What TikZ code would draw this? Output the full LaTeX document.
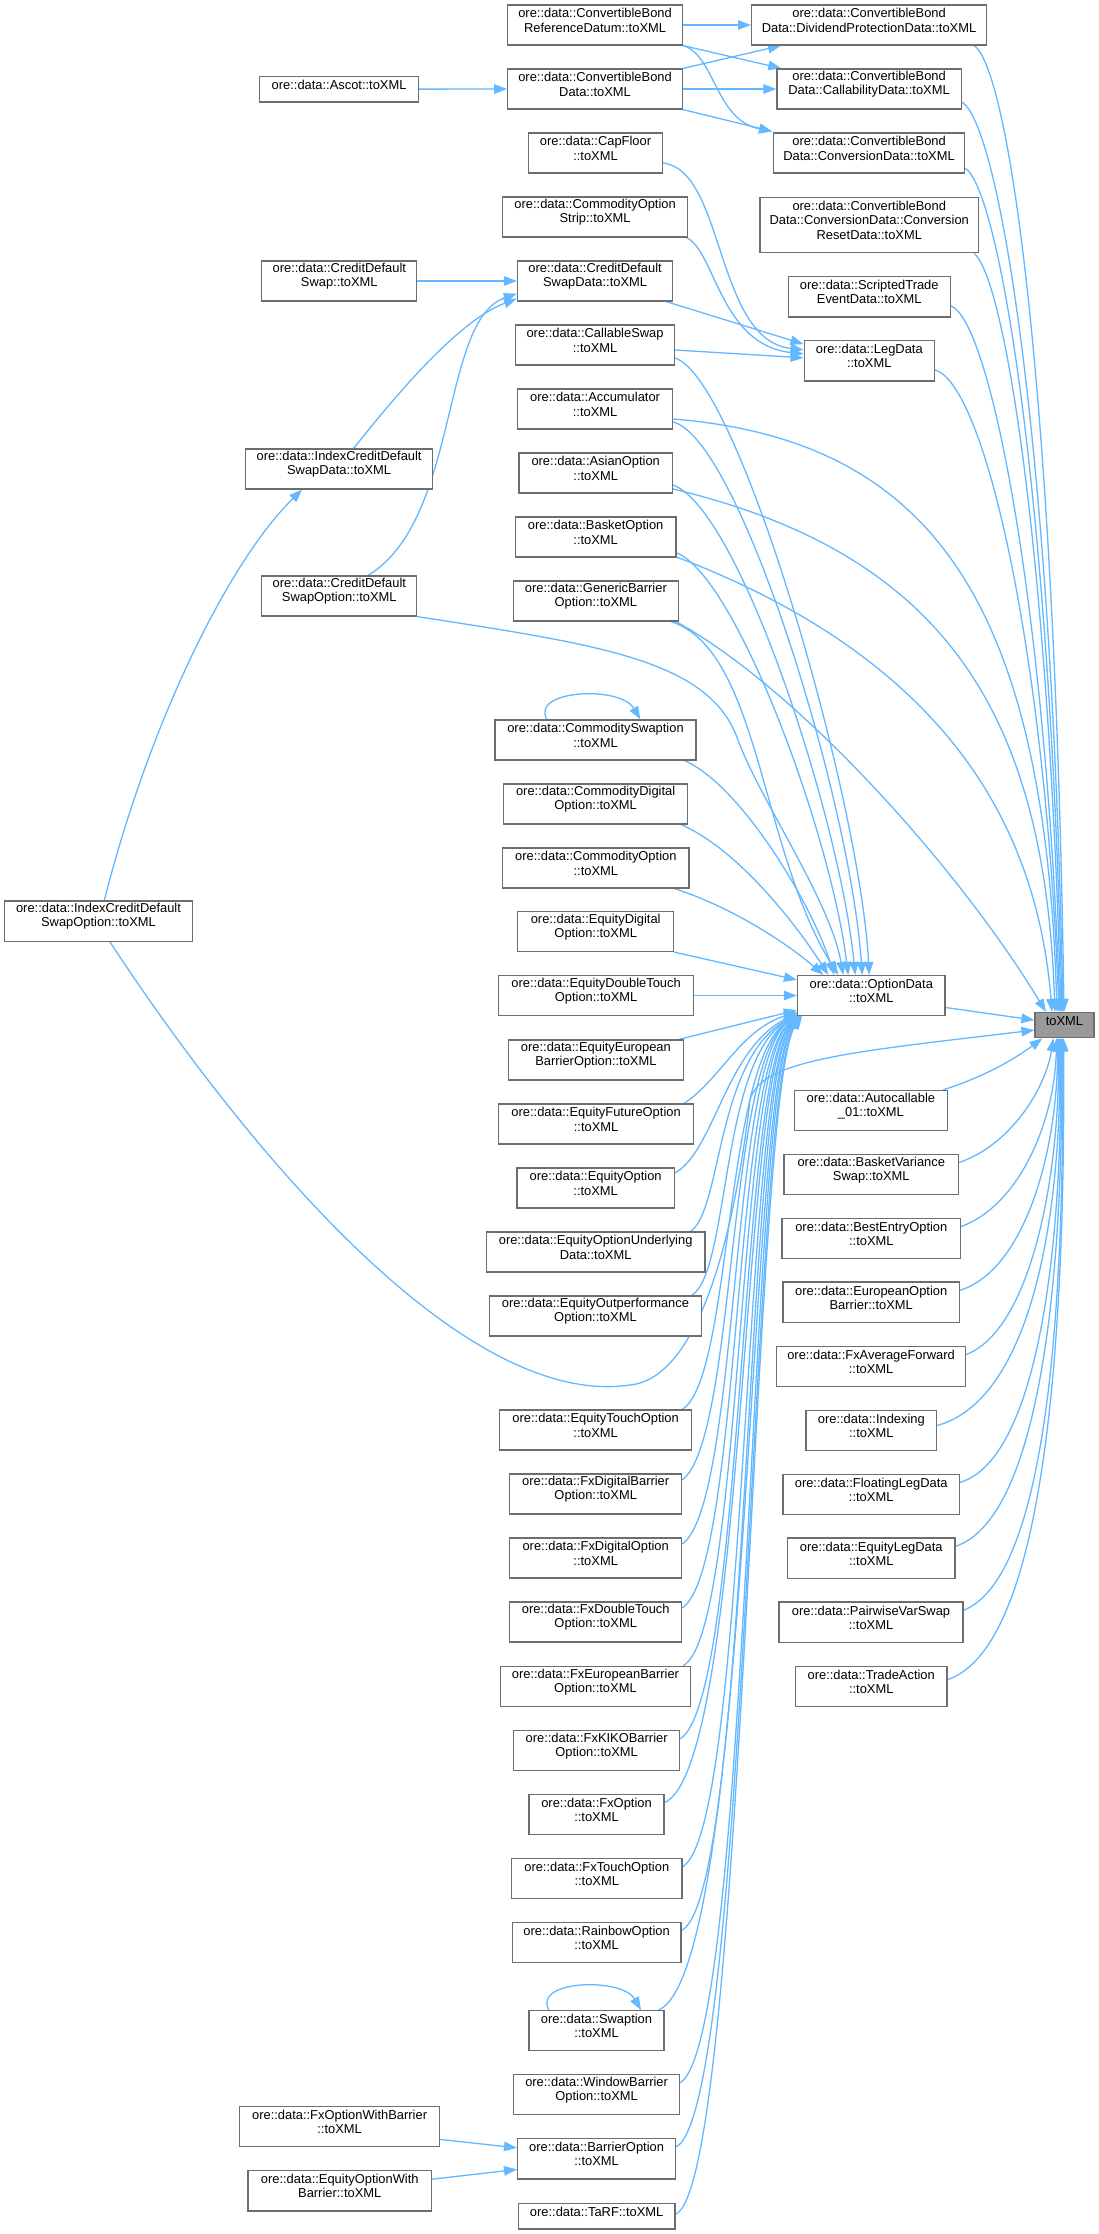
\documentclass[tikz,border=0pt]{standalone}
\usepackage{fontspec}
\usepackage{calc}
\setmainfont{Liberation Sans}
\usetikzlibrary{arrows.meta,calc,fit,backgrounds}
\definecolor{edgec}{HTML}{63B8FF}
\definecolor{bordc}{HTML}{6E6E6E}
\definecolor{tgtfill}{HTML}{999999}
\tikzset{
  box/.style={draw=bordc, fill=white, line width=1.2pt, inner sep=0pt, align=center,
     font=\fontsize{12.9}{14.2}\selectfont},
  edge/.style={draw=edgec, line width=1.3pt, -{Triangle[length=13pt,width=9.5pt]}},
}
\newcommand\mynode[7][]{\node[box,#1,fit={(#3,#5) (#4,#6)}] (#2) {#7};}
\begin{document}
\begin{tikzpicture}[x=1pt,y=-1pt]
\useasboundingbox (0,0) rectangle (1099,2234);
% column 3
\mynode{convref}{507.6}{682.5}{5}{45}{ore::data::ConvertibleBond\\ReferenceDatum::toXML}
\mynode{convdata}{507.6}{682.5}{69}{109}{ore::data::ConvertibleBond\\Data::toXML}
\mynode{capfloor}{528.6}{662.4}{133}{173}{ore::data::CapFloor\\::toXML}
\mynode{costrip}{502.5}{687.7}{197}{237}{ore::data::CommodityOption\\Strip::toXML}
\mynode{cdsdata}{517.5}{672.7}{261}{301}{ore::data::CreditDefault\\SwapData::toXML}
\mynode{callswap}{515.5}{674.6}{325}{365}{ore::data::CallableSwap\\::toXML}
\mynode{accum}{517.5}{672.7}{389}{429}{ore::data::Accumulator\\::toXML}
\mynode{asian}{518.9}{672.5}{453}{493}{ore::data::AsianOption\\::toXML}
\mynode{basket}{515.3}{676}{517}{557}{ore::data::BasketOption\\::toXML}
\mynode{generic}{513.3}{678.4}{581}{621}{ore::data::GenericBarrier\\Option::toXML}
\mynode{comswaption}{495}{696}{720}{760}{ore::data::CommoditySwaption\\::toXML}
\mynode{comdigital}{503.8}{687.5}{784}{824}{ore::data::CommodityDigital\\Option::toXML}
\mynode{comoption}{502.6}{689}{848}{888}{ore::data::CommodityOption\\::toXML}
\mynode{eqdigital}{517.7}{673.7}{911.5}{951.5}{ore::data::EquityDigital\\Option::toXML}
\mynode{eqdt}{498.7}{693.5}{975.5}{1015.5}{ore::data::EquityDoubleTouch\\Option::toXML}
\mynode{eqeb}{508.6}{683.2}{1040}{1080}{ore::data::EquityEuropean\\BarrierOption::toXML}
\mynode{eqfut}{498.7}{693.5}{1104}{1144}{ore::data::EquityFutureOption\\::toXML}
\mynode{eqopt}{516.9}{674.4}{1168}{1208}{ore::data::EquityOption\\::toXML}
\mynode{equnder}{486.3}{705}{1232}{1272}{ore::data::EquityOptionUnderlying\\Data::toXML}
\mynode{eqout}{489.5}{701.4}{1296}{1336}{ore::data::EquityOutperformance\\Option::toXML}
\mynode{eqtouch}{499.8}{691.5}{1410}{1450}{ore::data::EquityTouchOption\\::toXML}
\mynode{fxdb}{509.8}{681.6}{1474}{1514}{ore::data::FxDigitalBarrier\\Option::toXML}
\mynode{fxdo}{509.8}{681.6}{1538}{1578}{ore::data::FxDigitalOption\\::toXML}
\mynode{fxdt}{509.8}{681.6}{1602}{1642}{ore::data::FxDoubleTouch\\Option::toXML}
\mynode{fxeb}{500.6}{690.3}{1666.5}{1706.5}{ore::data::FxEuropeanBarrier\\Option::toXML}
\mynode{fxkiko}{513.6}{679.6}{1730.7}{1770.8}{ore::data::FxKIKOBarrier\\Option::toXML}
\mynode{fxopt}{529}{664}{1794.7}{1834.5}{ore::data::FxOption\\::toXML}
\mynode{fxtouch}{511.5}{682}{1858.7}{1898.6}{ore::data::FxTouchOption\\::toXML}
\mynode{rainbow}{512.2}{681}{1922.4}{1962.6}{ore::data::RainbowOption\\::toXML}
\mynode{swaption}{529}{664}{2010.6}{2050.8}{ore::data::Swaption\\::toXML}
\mynode{window}{513.6}{679.6}{2074.7}{2114.8}{ore::data::WindowBarrier\\Option::toXML}
\mynode{barrier}{517.6}{675.6}{2138.7}{2178.9}{ore::data::BarrierOption\\::toXML}
\mynode{tarf}{518.3}{675}{2203.4}{2229}{ore::data::TaRF::toXML}
% column 2 and 1
\mynode{ascot}{259.6}{418.6}{76.3}{102}{ore::data::Ascot::toXML}
\mynode{cds}{261.8}{416.8}{261}{301}{ore::data::CreditDefault\\Swap::toXML}
\mynode{icdsdata}{245.7}{432.5}{449}{489}{ore::data::IndexCreditDefault\\SwapData::toXML}
\mynode{cdsopt}{261.8}{416.8}{576}{616}{ore::data::CreditDefault\\SwapOption::toXML}
\mynode{fxowb}{239.8}{439.4}{2106.3}{2146.5}{ore::data::FxOptionWithBarrier\\::toXML}
\mynode{eqowb}{248}{431.5}{2170.7}{2210.9}{ore::data::EquityOptionWith\\Barrier::toXML}
\mynode{icdsopt}{4.7}{192.3}{901}{941.4}{ore::data::IndexCreditDefault\\SwapOption::toXML}
% column 4
\mynode[align=left]{divp}{751.6}{986.5}{5}{45}{ore::data::ConvertibleBond\\Data::DividendProtectionData::toXML}
\mynode[align=left]{callab}{776.9}{961.2}{69}{109}{ore::data::ConvertibleBond\\Data::CallabilityData::toXML}
\mynode[align=left]{conv}{773.7}{964.4}{133}{173}{ore::data::ConvertibleBond\\Data::ConversionData::toXML}
\mynode[align=left]{convreset}{759.9}{978.6}{197.3}{252.7}{ore::data::ConvertibleBond\\Data::ConversionData::Conversion\\\makebox[\widthof{Data::ConversionData::Conversion}][c]{ResetData::toXML}}
\mynode{scripted}{788.3}{950.2}{276.7}{317}{ore::data::ScriptedTrade\\EventData::toXML}
\mynode{legdata}{804.1}{934.4}{340.7}{381}{ore::data::LegData\\::toXML}
\mynode{optdata}{797.5}{945}{975.5}{1015.5}{ore::data::OptionData\\::toXML}
\mynode{autocall}{794.3}{947.5}{1090.4}{1130.4}{ore::data::Autocallable\\\_01::toXML}
\mynode{bvswap}{784}{958.6}{1154.4}{1194.6}{ore::data::BasketVariance\\Swap::toXML}
\mynode{bestentry}{782}{960.6}{1218.4}{1258.6}{ore::data::BestEntryOption\\::toXML}
\mynode{eobarrier}{783}{959.4}{1282}{1322.6}{ore::data::EuropeanOption\\Barrier::toXML}
\mynode{fxavg}{776.4}{965.7}{1346.3}{1386.6}{ore::data::FxAverageForward\\::toXML}
\mynode{indexing}{806}{936.7}{1410.3}{1450.5}{ore::data::Indexing\\::toXML}
\mynode{floatleg}{783}{959.4}{1474.3}{1514.5}{ore::data::FloatingLegData\\::toXML}
\mynode{eqleg}{787.5}{955}{1538}{1578.5}{ore::data::EquityLegData\\::toXML}
\mynode{pairwise}{779}{963}{1602}{1642.5}{ore::data::PairwiseVarSwap\\::toXML}
\mynode{tradeaction}{795.5}{947}{1666.7}{1706.5}{ore::data::TradeAction\\::toXML}
\mynode[fill=tgtfill]{target}{1035}{1094}{1012.5}{1037.7}{toXML}

\begin{scope}[on background layer]
\fill[white] (0,0) rectangle (1099,2234);
% convertible bond group
\draw[edge] (convref.east) -- (divp.west);
\draw[edge] (convref.south east) -- ($(callab.north west)+(5,0)$);
\draw[edge] (convref.south east) .. controls (715,55) and (715,120) .. ($(conv.north west)+(-1,-1)$);
\draw[edge] (convdata.north east) -- ($(divp.south west)+(30,0)$);
\draw[edge] (convdata.east) -- (callab.west);
\draw[edge] (convdata.south east) -- ($(conv.north west)+(-1,-1)$);
\draw[edge] (ascot.east) -- (convdata.west);
% credit default group
\draw[edge] (cds.east) -- (cdsdata.west);
\draw[edge] ($(icdsdata.north)+(14.5,0)$) .. controls (400,390) and (460,320) .. ($(cdsdata.south west)+(0,-3)$);
\draw[edge] ($(cdsopt.north)+(28.7,0)$) .. controls (460,520) and (440,320) .. ($(cdsdata.south west)+(0,-8)$);
\draw[edge] ($(icdsopt.north)+(5.8,0)$) .. controls (150,720) and (230,560) .. ($(icdsdata.south)+(-37,0)$);
% leg data
\draw[edge] ($(capfloor.east)+(0,10)$) .. controls (725,170) and (715,340) .. ($(legdata.west)+(0,-11)$);
\draw[edge] ($(costrip.south east)+(-2,0)$) .. controls (715,250) and (720,345) .. ($(legdata.west)+(0,-7)$);
\draw[edge] ($(cdsdata.south east)+(-7,0)$) -- ($(legdata.north west)+(0,4)$);
\draw[edge] ($(callswap.east)+(0,5)$) -- ($(legdata.west)+(0,-3)$);
% upper right -> target
\draw[edge] ($(divp.south east)+(-13,0)$) .. controls (1010,70) and (1055,400) .. ($(target.north)+(-0.5,0)$);
\draw[edge] ($(callab.east)+(0,13)$) .. controls (1000,125) and (1052,450) .. ($(target.north)+(-1.5,0)$);
\draw[edge] ($(conv.east)+(0,15)$) .. controls (1000,190) and (1050,500) .. ($(target.north)+(-2.5,0)$);
\draw[edge] ($(convreset.south east)+(-5,0)$) .. controls (1005,280) and (1048,550) .. ($(target.north)+(-3.5,0)$);
\draw[edge] ($(scripted.east)+(0,9)$) .. controls (990,320) and (1045,600) .. ($(target.north)+(-4.5,0)$);
\draw[edge] ($(legdata.east)+(0,9)$) .. controls (985,385) and (1045,650) .. ($(target.north)+(-5.5,0)$);
\draw[edge] ($(accum.east)+(0,10)$) .. controls (930,440) and (1045,600) .. ($(target.north)+(-7.5,0)$);
\draw[edge] ($(asian.east)+(0,16)$) .. controls (950,555) and (1045,720) .. ($(target.north)+(-9.5,0)$);
\draw[edge] ($(basket.east)+(0,20)$) .. controls (920,650) and (1035,800) .. ($(target.north)+(-12.5,0)$);
\draw[edge] ($(generic.south east)+(-3,0)$) .. controls (800,690) and (960,870) .. ($(target.north)+(-18.5,0)$);
% -> option data (top)
\draw[edge] ($(callswap.east)+(0,13)$) .. controls (740,380) and (860,800) .. ($(optdata.north)+(-2,0)$);
\draw[edge] ($(accum.east)+(0,13)$) .. controls (740,440) and (850,800) .. ($(optdata.north)+(-9,0)$);
\draw[edge] ($(asian.east)+(0,12)$) .. controls (740,510) and (840,820) .. ($(optdata.north)+(-16,0)$);
\draw[edge] ($(basket.east)+(0,16)$) .. controls (735,575) and (830,830) .. ($(optdata.north)+(-23,0)$);
\draw[edge] (cdsopt.south east) .. controls (600,645) and (710,660) .. (738,740) .. controls (760,800) and (830,900) .. ($(optdata.north)+(-28,0)$);
\draw[edge] ($(generic.south east)+(-8,0)$) .. controls (760,650) and (760,850) .. ($(optdata.north)+(-33,0)$);
\draw[edge] ($(comswaption.south east)+(-12,0)$) .. controls (740,785) and (810,900) .. ($(optdata.north)+(-37,0)$);
\draw[edge] ($(comdigital.south east)+(-7,0)$) .. controls (740,850) and (800,930) .. ($(optdata.north)+(-43,0)$);
\draw[edge] ($(comoption.south east)+(-15,0)$) .. controls (740,910) and (795,950) .. ($(optdata.north)+(-48,0)$);
\draw[edge] (eqdigital.south east) -- ($(optdata.north west)+(0,5)$);
\draw[edge] (eqdt.east) -- (optdata.west);
\draw[edge] ($(eqeb.north east)+(-5,0)$) -- ($(optdata.south west)+(0,-6)$);
% -> option data (bundle from below)
\draw[edge] ($(eqfut.north east)+(-10,0)$) .. controls (720,1080) and (740,1030) .. ($(optdata.south west)+(0,-4)$);
\draw[edge] ($(eqopt.east)+(0,-15)$) .. controls (715,1150) and (725,1050) .. ($(optdata.south west)+(0,-3)$);
\draw[edge] ($(equnder.north east)+(-15,0)$) .. controls (722,1210) and (716,1060) .. ($(optdata.south west)+(0,-2)$);
\draw[edge] ($(eqout.north east)+(-10,0)$) .. controls (730,1270) and (720,1062) .. ($(optdata.south west)+(0,-2)$);
\draw[edge] ($(eqtouch.north east)+(-10,0)$) .. controls (732,1380) and (724,1064) .. ($(optdata.south west)+(0,-1)$);
\draw[edge] ($(fxdb.east)+(0,-14)$) .. controls (736,1440) and (727,1066) .. ($(optdata.south west)+(0,-1)$);
\draw[edge] ($(fxdo.east)+(0,-14)$) .. controls (739,1505) and (730,1068) .. ($(optdata.south west)+(0,-1)$);
\draw[edge] ($(fxdt.east)+(0,-14)$) .. controls (741,1570) and (733,1070) .. ($(optdata.south west)+(1,0)$);
\draw[edge] ($(fxeb.north east)+(-8,0)$) .. controls (743,1635) and (736,1072) .. ($(optdata.south west)+(1,0)$);
\draw[edge] ($(fxkiko.east)+(0,-12)$) .. controls (744,1700) and (739,1074) .. ($(optdata.south west)+(2,0)$);
\draw[edge] ($(fxopt.east)+(0,-12)$) .. controls (746,1765) and (741,1076) .. ($(optdata.south west)+(2,0)$);
\draw[edge] ($(fxtouch.east)+(0,-12)$) .. controls (748,1830) and (743,1078) .. ($(optdata.south west)+(3,0)$);
\draw[edge] ($(rainbow.east)+(0,-12)$) .. controls (750,1895) and (745,1080) .. ($(optdata.south west)+(3,0)$);
\draw[edge] ($(swaption.north east)+(-6,0)$) .. controls (752,1970) and (747,1082) .. ($(optdata.south west)+(4,0)$);
\draw[edge] ($(window.east)+(0,-12)$) .. controls (750,2040) and (749,1084) .. ($(optdata.south west)+(4,0)$);
\draw[edge] ($(barrier.east)+(0,-12)$) .. controls (748,2110) and (751,1086) .. ($(optdata.south west)+(5,0)$);
\draw[edge] ($(tarf.east)+(0,-2)$) .. controls (744,2185) and (753,1088) .. ($(optdata.south west)+(5,0)$);
% self loops
\draw[edge] ($(comswaption.north west)+(52.5,0)$) .. controls (530,690) and (620,685) .. ($(comswaption.north west)+(146,0)$);
\draw[edge] ($(swaption.north west)+(20.5,0)$) .. controls (532,1980) and (622,1977) .. ($(swaption.north west)+(112.6,0)$);
% barrier option callers
\draw[edge] ($(fxowb.east)+(0,13)$) -- ($(barrier.west)+(0,-11)$);
\draw[edge] ($(eqowb.east)+(0,-11.6)$) -- ($(barrier.west)+(0,10.6)$);
% option data and index cds option -> target
\draw[edge] ($(optdata.east)+(0,12)$) -- ($(target.west)+(0,-5)$);
\draw[edge] ($(icdsopt.south)+(11.5,0)$) .. controls (240,1140) and (460,1410) .. (630,1385) .. controls (700,1378) and (735,1230) .. (750,1100) .. controls (760,1060) and (850,1052) .. ($(target.west)+(0,5)$);
% lower right -> target
\draw[edge] ($(autocall.north east)+(-5,0)$) .. controls (990,1075) and (1020,1055) .. ($(target.south west)+(8,0)$);
\draw[edge] ($(bvswap.east)+(0,-12)$) .. controls (1010,1145) and (1045,1090) .. ($(target.south)+(-11,0)$);
\draw[edge] ($(bestentry.east)+(0,-12)$) .. controls (1020,1205) and (1055,1120) .. ($(target.south)+(-8,0)$);
\draw[edge] ($(eobarrier.east)+(0,-12)$) .. controls (1025,1270) and (1058,1150) .. ($(target.south)+(-7,0)$);
\draw[edge] ($(fxavg.east)+(0,-12)$) .. controls (1030,1330) and (1060,1180) .. ($(target.south)+(-6,0)$);
\draw[edge] ($(indexing.east)+(0,-5)$) .. controls (1030,1400) and (1062,1220) .. ($(target.south)+(-5,0)$);
\draw[edge] ($(floatleg.east)+(0,-12)$) .. controls (1035,1460) and (1063,1260) .. ($(target.south)+(-4,0)$);
\draw[edge] ($(eqleg.east)+(0,-12)$) .. controls (1035,1520) and (1064,1300) .. ($(target.south)+(-3,0)$);
\draw[edge] ($(pairwise.east)+(0,-12)$) .. controls (1040,1580) and (1065,1350) .. ($(target.south)+(-2,0)$);
\draw[edge] ($(tradeaction.east)+(0,-7)$) .. controls (1035,1650) and (1066,1400) .. ($(target.south)+(-1,0)$);
\end{scope}
\end{tikzpicture}
\end{document}
